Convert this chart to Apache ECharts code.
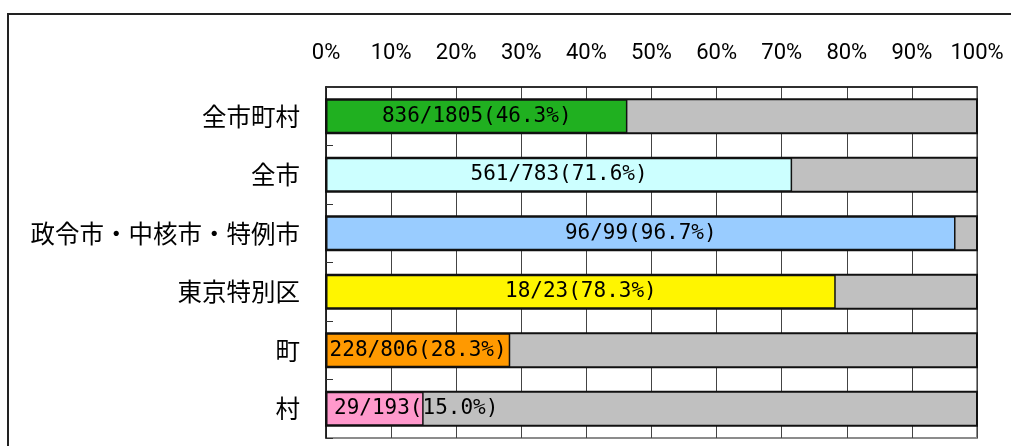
<!DOCTYPE html>
<html>
<head>
<meta charset="utf-8">
<script src="https://cdn.jsdelivr.net/npm/echarts@6/dist/echarts.min.js"></script>
<style>
  html, body { margin: 0; padding: 0; background: #fff; }
  #main { width: 1011px; height: 446px; }
</style>
</head>
<body>
<div id="main"></div>
<script>
var categories = ['全市町村', '全市', '政令市・中核市・特例市', '東京特別区', '町', '村'];
var answered = [836, 561, 96, 18, 228, 29];
var totals = [1805, 783, 99, 23, 806, 193];
var percents = [46.3, 71.6, 96.7, 78.3, 28.3, 15.0];
var barColors = ['#20b020', '#ccffff', '#99ccff', '#fff500', '#ff9900', '#ff99cc'];
var xTicks = [0, 10, 20, 30, 40, 50, 60, 70, 80, 90, 100];

function build() {
    var myChart = echarts.init(document.getElementById('main'));

    var barData = percents.map(function (v, i) {
        var item = {
            value: v,
            itemStyle: { color: barColors[i] }
        };
        // short bar: label starts at the left and runs past the bar
        if (v < 20) {
            item.label = { position: 'insideLeft', distance: 8 };
        }
        return item;
    });

    var option = {
        animation: false,
        textStyle: { fontFamily: 'Noto Sans CJK JP' },
        grid: {
            left: 326,
            right: 34,
            top: 87,
            bottom: 8,
            show: true,
            borderColor: '#8c8c8c',
            borderWidth: 2
        },
        graphic: [{
            type: 'rect',
            shape: { x: 8, y: 14, width: 1100, height: 600 },
            style: { fill: 'none', stroke: '#222', lineWidth: 2 },
            silent: true
        }],
        xAxis: {
            type: 'value',
            position: 'top',
            min: 0,
            max: 100,
            interval: 10,
            axisLine: { show: true, lineStyle: { color: '#111', width: 1.5 } },
            axisTick: { show: false },
            axisLabel: {
                margin: 23,
                fontSize: 22,
                color: '#000',
                fontFamily: 'Roboto',
                formatter: function (v) { return xTicks.indexOf(v) >= 0 ? v + '%' : ''; }
            },
            splitLine: { show: true, lineStyle: { color: '#444', width: 1 } }
        },
        yAxis: {
            type: 'category',
            inverse: true,
            data: categories,
            axisLine: { show: true, lineStyle: { color: '#111', width: 1.5 } },
            axisTick: { show: true, inside: true, length: 7, lineStyle: { color: '#333' } },
            axisLabel: {
                margin: 26,
                fontSize: 24.5,
                color: '#000',
                fontFamily: 'Noto Sans CJK JP'
            }
        },
        series: [{
            name: '回答',
            type: 'bar',
            barWidth: 34,
            data: barData,
            showBackground: true,
            backgroundStyle: {
                color: '#c0c0c0',
                borderColor: '#111',
                borderWidth: 2
            },
            itemStyle: { borderColor: '#111', borderWidth: 1.5 },
            label: {
                show: true,
                position: 'inside',
                color: '#000',
                fontSize: 21,
                fontFamily: 'DejaVu Sans Mono',
                formatter: function (p) {
                    var i = p.dataIndex;
                    return answered[i] + '/' + totals[i] + '(' + percents[i].toFixed(1) + '%)';
                }
            }
        }]
    };

    myChart.setOption(option);
}

build();
</script>
</body>
</html>
